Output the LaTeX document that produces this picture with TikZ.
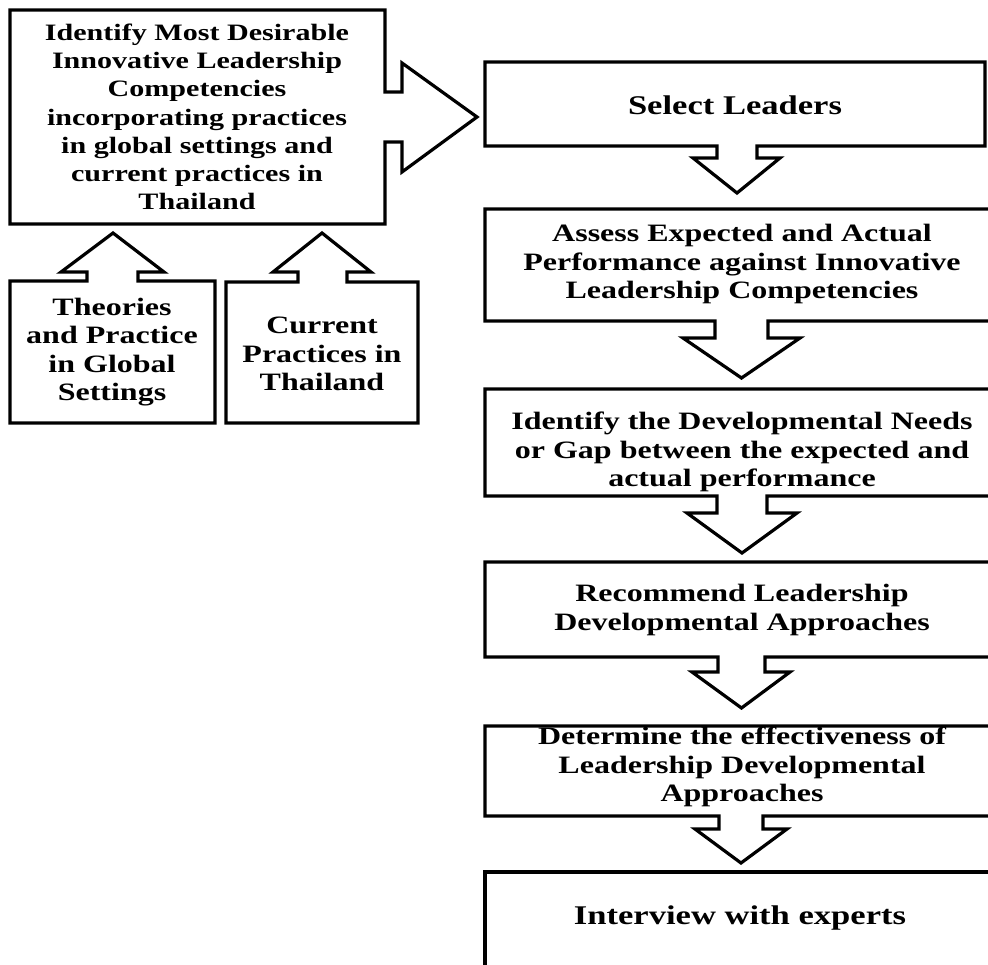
\documentclass[tikz,border=0pt]{standalone}
\usepackage{fontspec}
\setmainfont{Liberation Serif}[FakeStretch=1.28]
\newcommand\dboxpath[9]{%
  \draw[outl] (485,#1) -- (#3,#1) -- (#3,#2) -- (#5,#2) -- (#5,#6) -- (#8,#6)
    -- ({(#4+#5)/2},#9) -- (#7,#6) -- (#4,#6) -- (#4,#2) -- (485,#2) -- cycle;}
\begin{document}
\begin{tikzpicture}[x=1pt,y=-1pt,
  outl/.style={draw=black,line width=3.2pt,line join=miter},
  txt/.style={align=center,inner sep=0pt,font=\bfseries\fontsize{25}{28.5}\selectfont},
  bigtxt/.style={font=\bfseries\fontsize{27}{30}\selectfont},
  smalltxt/.style={font=\bfseries\fontsize{23.5}{28.2}\selectfont}]
\clip (0,0) rectangle (988,964);
\fill[white] (0,0) rectangle (988,964);
% top-left box with right block arrow
\draw[outl] (10,10) -- (385,10) -- (385,92) -- (402,92) -- (402,63) -- (477,117)
  -- (402,172) -- (402,142) -- (385,142) -- (385,224) -- (10,224) -- cycle;
% lower-left boxes with up block arrows
\draw[outl] (10,423) -- (10,281) -- (87,281) -- (87,272) -- (61,272) -- (113,233)
  -- (164,272) -- (138,272) -- (138,281) -- (215,281) -- (215,423) -- cycle;
\draw[outl] (226,423) -- (226,282) -- (298,282) -- (298,272) -- (273,272) -- (322,233)
  -- (371,272) -- (347,272) -- (347,282) -- (418,282) -- (418,423) -- cycle;
% right column boxes with down block arrows
\dboxpath{62}{146}{985}{717}{757}{158}{693}{780}{193}
\dboxpath{209}{321}{1000}{715}{768}{338}{683}{800}{378}
\dboxpath{389}{496}{1000}{717}{767}{513}{687}{797}{553}
\dboxpath{562}{657}{1000}{718}{765}{672}{692}{790}{708}
\dboxpath{726}{816}{1000}{719}{763}{829}{695}{787}{863}
\draw[outl] (485,1000) -- (485,872) -- (1000,872);
% texts
\node[txt,smalltxt] (goal) at (197,117) {Identify Most Desirable\\Innovative Leadership\\Competencies\\incorporating practices\\in global settings and\\current practices in\\Thailand};
\node[txt] (theory) at (112,352) {Theories\\and Practice\\in Global\\Settings};
\node[txt] (current) at (322,354) {Current\\Practices in\\Thailand};
\node[txt,bigtxt] (select) at (735,105) {Select Leaders};
\node[txt] (assess) at (742,264) {Assess Expected and Actual\\Performance against Innovative\\Leadership Competencies};
\node[txt] (gap) at (742,452) {Identify the Developmental Needs\\or Gap between the expected and\\actual performance};
\node[txt] (recommend) at (742,610) {Recommend Leadership\\Developmental Approaches};
\node[txt] (determine) at (742,767) {Determine the effectiveness of\\Leadership Developmental\\Approaches};
\node[txt,bigtxt] (interview) at (740,918) {Interview with experts};
\end{tikzpicture}
\end{document}
